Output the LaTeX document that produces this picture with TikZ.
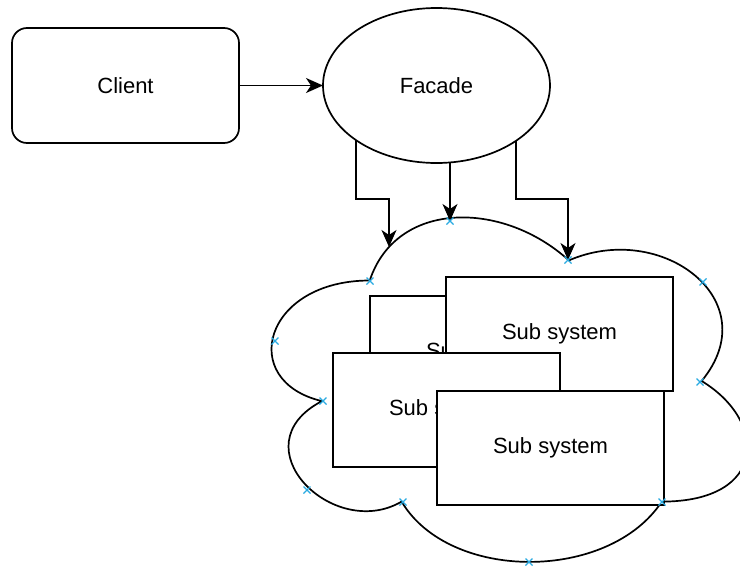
\documentclass[tikz,border=0pt]{standalone}
\usepackage{fontspec}
\setmainfont{Liberation Sans}
\usetikzlibrary{arrows.meta,shapes.geometric,calc}
\definecolor{markblue}{RGB}{41,170,226}
\tikzset{
  base/.style={draw=black, line width=1.7pt, fill=white, inner sep=0pt, outer sep=0pt,
    font=\fontsize{22pt}{26pt}\selectfont},
  clientbox/.style={base, rectangle, rounded corners=15pt, minimum width=227pt, minimum height=115pt},
  facadeshape/.style={base, ellipse, minimum width=227pt, minimum height=155pt},
  subbox/.style={base, rectangle, minimum width=227pt, minimum height=114pt},
  arr/.style={draw=black, line width=1.7pt, -{Stealth[length=17pt,width=15pt,inset=5pt]}},
  cloudline/.style={draw=black, line width=1.7pt, fill=white},
  xmark/.style={draw=markblue, line width=1.2pt}
}
\newcommand{\xmk}[1]{\draw[xmark] ($(#1)+(-3.5,-3.5)$) -- ($(#1)+(3.5,3.5)$) ($(#1)+(-3.5,3.5)$) -- ($(#1)+(3.5,-3.5)$);}
\begin{document}
\begin{tikzpicture}[x=1pt,y=-1pt]
\useasboundingbox (0,0) rectangle (740,568);
\fill[white] (0,0) rectangle (740,568);
\clip (0,0) rectangle (740,568);

% cloud
\begin{scope}[xshift=237pt, yshift=-180pt, x=531pt, y=-402pt]
\path[cloudline] (0.25,0.25) .. controls (0.05,0.25) and (0,0.5) .. (0.16,0.55)
  .. controls (0,0.66) and (0.18,0.9) .. (0.31,0.8)
  .. controls (0.4,1) and (0.7,1) .. (0.8,0.8)
  .. controls (1,0.8) and (1,0.6) .. (0.875,0.5)
  .. controls (1,0.3) and (0.8,0.1) .. (0.625,0.2)
  .. controls (0.5,0.05) and (0.3,0.05) .. (0.25,0.25) -- cycle;
\end{scope}

% nodes
\node[clientbox] (client) at (125.5,85.5) {Client};
\node[facadeshape] (facade) at (436.5,85.5) {Facade};

\node[subbox] (subA) at (483.5,353) {Sub system};
\node[subbox] (subB) at (559.5,334) {Sub system};
\node[subbox] (subC) at (446.5,410) {Sub system};
\node[subbox] (subD) at (550.5,448) {Sub system};

% connector coordinates
\coordinate (k1) at (389,199.3);
\coordinate (c1) at (389,247);
\coordinate (c2) at (450,221);
\coordinate (k3) at (568,199.3);
\coordinate (c3) at (568,260);

\draw[arr] (client.east) -- (facade.west);
\draw[arr] (facade.214.82) |- (k1) -- (c1);
\draw[arr] (c2 |- facade.south) -- (c2);
\draw[arr] (facade.325.85) |- (k3) -- (c3);

% connection point markers
\coordinate (m1) at (370,281);
\coordinate (m2) at (275,341);
\coordinate (m3) at (323,401);
\coordinate (m4) at (307,490);
\coordinate (m5) at (403,502);
\coordinate (m6) at (529,562);
\coordinate (m7) at (662,502);
\coordinate (m8) at (700,382);
\coordinate (m9) at (703,282);
\coordinate (m10) at (568,260);
\coordinate (m11) at (450,221);
\foreach \m in {m1,m2,m3,m4,m5,m6,m7,m8,m9,m10,m11}{\xmk{\m}}
\end{tikzpicture}
\end{document}
